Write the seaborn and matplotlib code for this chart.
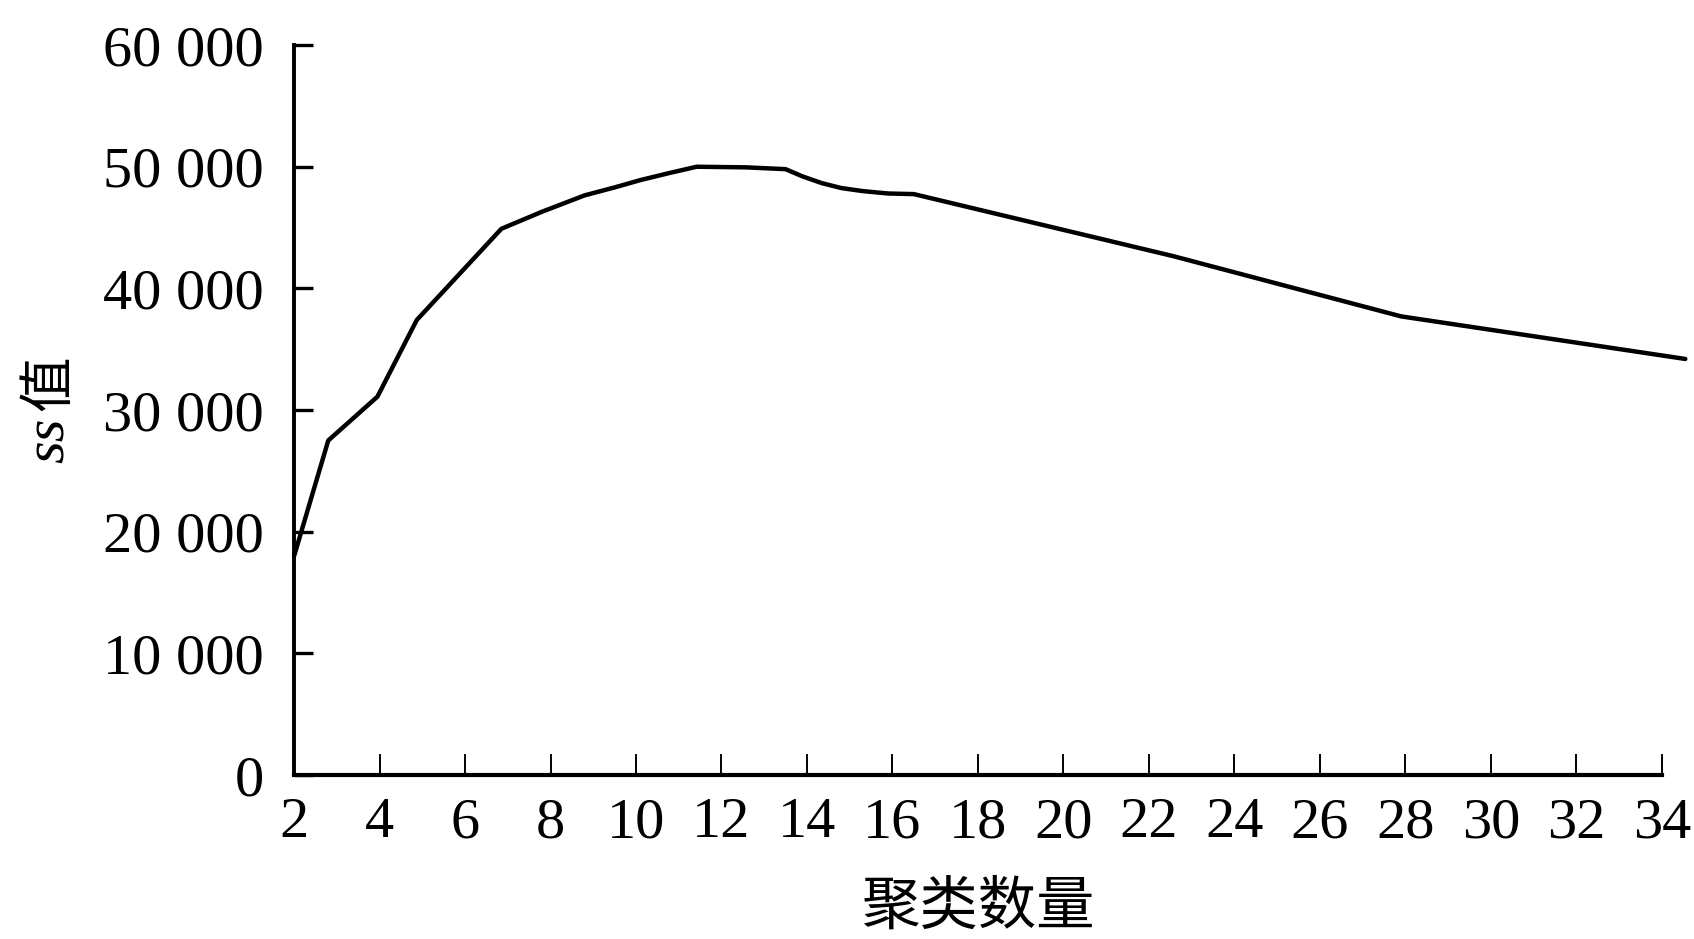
import matplotlib
matplotlib.use("Agg")
import matplotlib.pyplot as plt
from matplotlib.ticker import FuncFormatter
import seaborn as sns
import pandas as pd

# 聚类数量 与 ss 值
cluster_n = [2, 2.8, 3.95, 4.87, 6.85, 7.8, 8.8, 9.5, 10.1, 10.8, 11.42, 12.57,
             13.5, 13.9, 14.35, 14.8, 15.3, 15.9, 16.5, 22.57, 27.9, 34.55]
ss_value = [18000, 27500, 31100, 37400, 44900, 46300, 47650, 48300, 48900, 49500, 50000, 49950,
            49800, 49200, 48650, 48250, 48000, 47800, 47750, 42650, 37700, 34200]
x_ticks = list(range(2, 35, 2))
y_ticks = [0, 10000, 20000, 30000, 40000, 50000, 60000]

sns.set_theme(style="ticks")
plt.rcParams['font.family'] = ['Liberation Serif', 'Noto Sans CJK SC']

df = pd.DataFrame({"n": cluster_n, "ss": ss_value})

fig = plt.figure(figsize=(16.94, 9.39), dpi=100)
ax = fig.add_axes([0.1736, 0.1746, 0.8074, 0.7774])

sns.lineplot(data=df, x="n", y="ss", ax=ax, color="black", linewidth=3.2)
for ln in ax.lines:
    ln.set_clip_on(False)

ax.set_xlim(2, 34)
ax.set_ylim(0, 60000)
ax.set_xticks(x_ticks)
ax.set_yticks(y_ticks)
ax.yaxis.set_major_formatter(FuncFormatter(lambda v, p: f"{int(v):,}".replace(",", " ")))

sns.despine(ax=ax)
ax.spines['left'].set_linewidth(2.8)
ax.spines['bottom'].set_linewidth(3.0)
ax.spines['left'].set_color("black")
ax.spines['bottom'].set_color("black")

ax.tick_params(axis='y', direction='in', length=14, width=2.4, pad=22,
               labelsize=42, colors='black')
ax.tick_params(axis='x', direction='in', length=15, width=1.4, pad=16,
               labelsize=42, colors='black')
for lab in ax.get_xticklabels() + ax.get_yticklabels():
    lab.set_family('Liberation Serif')

ax.set_xlabel("聚类数量", fontsize=42, family=['Noto Sans CJK SC'],
              labelpad=20, color='black')
ax.set_ylabel("")

# y 轴标题：斜体 ss + 值
fig.text(0.0294, 0.531, "ss", rotation=90, fontsize=42, style='italic',
         family='Liberation Serif', ha='center', va='center', color='black')
fig.text(0.0294, 0.5916, "值", rotation=90, fontsize=40,
         family=['Noto Sans CJK SC'], ha='center', va='center', color='black')

plt.savefig("out.png", dpi=100)
